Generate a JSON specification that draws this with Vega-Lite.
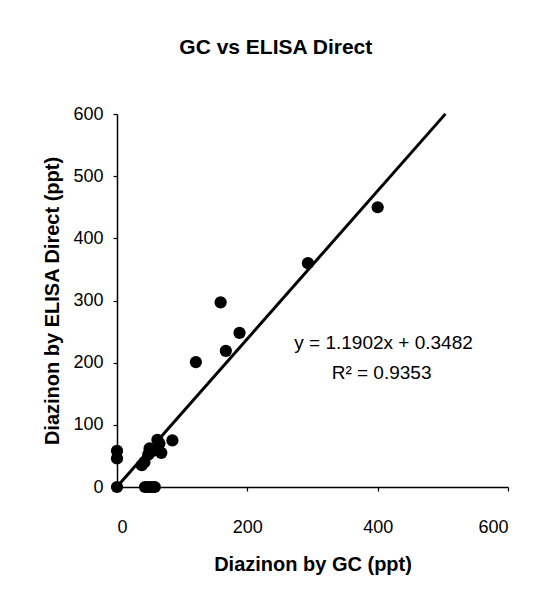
{
  "$schema": "https://vega.github.io/schema/vega-lite/v6.json",
  "autosize": "none",
  "width": 391,
  "height": 373,
  "padding": {"left": 117, "top": 114, "right": 44, "bottom": 111},
  "background": "white",
  "title": {
    "text": "GC vs ELISA Direct",
    "font": "Liberation Sans",
    "fontSize": 21,
    "fontWeight": "bold",
    "color": "black",
    "anchor": "middle",
    "frame": "bounds",
    "offset": 47
  },
  "config": {
    "view": {"stroke": null},
    "axis": {
      "grid": false,
      "domainColor": "black",
      "domainWidth": 1.5,
      "tickColor": "black",
      "tickWidth": 1.2,
      "tickSize": 4,
      "labelFont": "Liberation Sans",
      "labelFontSize": 18,
      "labelColor": "black",
      "titleFont": "Liberation Sans",
      "titleFontSize": 20,
      "titleFontWeight": "bold",
      "titleColor": "black"
    }
  },
  "layer": [
    {
      "data": {
        "values": [
          {"gc": 0, "elisa": 0},
          {"gc": 0, "elisa": 46},
          {"gc": 0, "elisa": 58},
          {"gc": 43, "elisa": 0},
          {"gc": 47, "elisa": 0},
          {"gc": 51, "elisa": 0},
          {"gc": 55, "elisa": 0},
          {"gc": 58, "elisa": 0},
          {"gc": 38, "elisa": 35},
          {"gc": 42, "elisa": 40},
          {"gc": 48, "elisa": 52},
          {"gc": 50, "elisa": 62},
          {"gc": 55, "elisa": 58},
          {"gc": 62, "elisa": 76},
          {"gc": 65, "elisa": 70},
          {"gc": 68, "elisa": 55},
          {"gc": 85, "elisa": 75},
          {"gc": 121, "elisa": 201},
          {"gc": 159, "elisa": 297},
          {"gc": 167, "elisa": 219},
          {"gc": 188, "elisa": 248},
          {"gc": 293, "elisa": 360},
          {"gc": 400, "elisa": 450}
        ]
      },
      "mark": {"type": "circle", "size": 150, "color": "black", "opacity": 1},
      "encoding": {
        "x": {
          "field": "gc",
          "type": "quantitative",
          "scale": {"domain": [0, 600], "nice": false, "zero": true},
          "axis": {
            "values": [0, 200, 400, 600],
            "title": "Diazinon by GC (ppt)",
            "labelPadding": 27,
            "titlePadding": 18
          }
        },
        "y": {
          "field": "elisa",
          "type": "quantitative",
          "scale": {"domain": [0, 600], "nice": false},
          "axis": {
            "values": [0, 100, 200, 300, 400, 500, 600],
            "title": "Diazinon by ELISA Direct (ppt)",
            "labelPadding": 10,
            "titlePadding": 10
          }
        }
      }
    },
    {
      "data": {"values": [{"gc": 0, "elisa": 0.35}, {"gc": 504, "elisa": 600.2}]},
      "mark": {"type": "line", "color": "black", "strokeWidth": 3},
      "encoding": {
        "x": {"field": "gc", "type": "quantitative"},
        "y": {"field": "elisa", "type": "quantitative"}
      }
    },
    {
      "data": {
        "values": [
          {"gc": 409, "elisa": 231, "label": "y = 1.1902x + 0.3482"},
          {"gc": 406, "elisa": 183, "label": "R² = 0.9353"}
        ]
      },
      "mark": {"type": "text", "font": "Liberation Sans", "fontSize": 19, "color": "black"},
      "encoding": {
        "x": {"field": "gc", "type": "quantitative"},
        "y": {"field": "elisa", "type": "quantitative"},
        "text": {"field": "label"}
      }
    }
  ]
}
